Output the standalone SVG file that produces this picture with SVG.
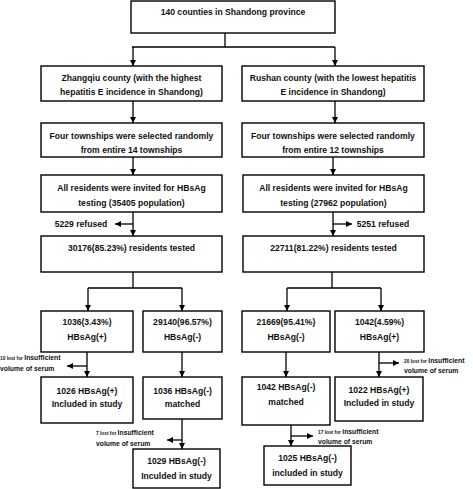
<svg xmlns="http://www.w3.org/2000/svg" width="473" height="489" viewBox="0 0 473 489">
<style>
.b{fill:#fff;stroke:#000;stroke-width:1.4}
.t{font-family:"Liberation Sans",Arial,sans-serif;font-size:8.6px;font-weight:bold;text-anchor:middle;fill:#111}
.s{font-family:"Liberation Sans",Arial,sans-serif;font-size:6.8px;font-weight:bold;fill:#111}
.xs{font-size:4.8px}
.c{stroke:#000;stroke-width:1.3;fill:none}
.a{marker-end:url(#ah)}
</style>
<defs>
<marker id="ah" markerUnits="userSpaceOnUse" markerWidth="7" markerHeight="7" refX="6" refY="3" orient="auto">
<path d="M0,0 L6,3 L0,6 Z" fill="#000"/>
</marker>
</defs>
<rect width="473" height="489" fill="#fff"/>
<g id="connectors">
<path class="c" d="M225,33 V47 M132,47 H335"/>
<path class="c a" d="M133,47 V66"/>
<path class="c a" d="M335,47 V66"/>
<path class="c a" d="M133,101 V123"/>
<path class="c a" d="M335,101 V123"/>
<path class="c a" d="M133,157 V175"/>
<path class="c a" d="M333,157 V175"/>
<path class="c a" d="M133,212 V236"/>
<path class="c a" d="M133,224 H115"/>
<path class="c a" d="M333,212 V236"/>
<path class="c a" d="M333,224 H352"/>
<path class="c" d="M133,272 V288 M88,288 H182"/>
<path class="c a" d="M88,288 V311"/>
<path class="c a" d="M182,288 V311"/>
<path class="c" d="M332,272 V288 M287,288 H381"/>
<path class="c a" d="M287,288 V311"/>
<path class="c a" d="M381,288 V311"/>
<path class="c a" d="M87,352 V377"/>
<path class="c a" d="M87,366 H67"/>
<path class="c a" d="M182,352 V377"/>
<path class="c a" d="M182,419 V449"/>
<path class="c a" d="M182,440 H167"/>
<path class="c a" d="M286,352 V377"/>
<path class="c a" d="M379,352 V377"/>
<path class="c a" d="M379,363 H399"/>
<path class="c a" d="M291,425 V446"/>
<path class="c a" d="M291,436 H313"/>
</g>
<g id="n-top"><rect class="b" x="131" y="1" width="204" height="32"/><text class="t" x="233" y="15">140 counties in Shandong province</text></g>
<g id="n-zhangqiu"><rect class="b" x="41" y="66" width="181" height="35"/><text class="t" x="131.5" y="81">Zhangqiu county (with the highest</text><text class="t" x="131.5" y="95">hepatitis E incidence in Shandong)</text></g>
<g id="n-rushan"><rect class="b" x="242" y="66" width="182" height="35"/><text class="t" x="333" y="81">Rushan county (with the lowest hepatitis</text><text class="t" x="333" y="95">E incidence in Shandong)</text></g>
<g id="n-town-l"><rect class="b" x="41" y="123" width="181" height="34"/><text class="t" x="131.5" y="139">Four townships were selected randomly</text><text class="t" x="131.5" y="153">from entire 14 townships</text></g>
<g id="n-town-r"><rect class="b" x="242" y="123" width="182" height="34"/><text class="t" x="333" y="139">Four townships were selected randomly</text><text class="t" x="333" y="153">from entire 12 townships</text></g>
<g id="n-inv-l"><rect class="b" x="41" y="175" width="181" height="37"/><text class="t" x="131.5" y="191">All residents were invited for HBsAg</text><text class="t" x="131.5" y="206">testing (35405 population)</text></g>
<g id="n-inv-r"><rect class="b" x="243" y="175" width="181" height="37"/><text class="t" x="333.5" y="191">All residents were invited for HBsAg</text><text class="t" x="333.5" y="206">testing (27962 population)</text></g>
<g id="n-ref-l"><text class="t" x="81" y="227">5229 refused</text></g>
<g id="n-ref-r"><text class="t" x="383" y="227">5251 refused</text></g>
<g id="n-test-l"><rect class="b" x="41" y="236" width="181" height="36"/><text class="t" x="131.5" y="251">30176(85.23%) residents tested</text></g>
<g id="n-test-r"><rect class="b" x="243" y="236" width="181" height="36"/><text class="t" x="333.5" y="251">22711(81.22%) residents tested</text></g>
<g id="n-pos-l"><rect class="b" x="41" y="311" width="92" height="41"/><text class="t" x="87" y="325">1036(3.43%)</text><text class="t" x="87" y="340">HBsAg(+)</text></g>
<g id="n-neg-l"><rect class="b" x="143" y="311" width="79" height="41"/><text class="t" x="182.5" y="325">29140(96.57%)</text><text class="t" x="182.5" y="340">HBsAg(-)</text></g>
<g id="n-neg-r"><rect class="b" x="242" y="311" width="88" height="41"/><text class="t" x="286" y="325">21669(95.41%)</text><text class="t" x="286" y="340">HBsAg(-)</text></g>
<g id="n-pos-r"><rect class="b" x="335" y="311" width="89" height="41"/><text class="t" x="379.5" y="325">1042(4.59%)</text><text class="t" x="379.5" y="340">HBsAg(+)</text></g>
<g id="n-lost10"><text class="s" x="0" y="360"><tspan class="xs">10 lost for </tspan>Insufficient</text><text class="s" x="0" y="371">volume of serum</text></g>
<g id="n-inc-pos-l"><rect class="b" x="41" y="377" width="92" height="46"/><text class="t" x="87" y="394">1026 HBsAg(+)</text><text class="t" x="87" y="407">Included in study</text></g>
<g id="n-match-l"><rect class="b" x="143" y="377" width="79" height="42"/><text class="t" x="182.5" y="394">1036 HBsAg(-)</text><text class="t" x="182.5" y="407">matched</text></g>
<g id="n-lost7"><text class="s" x="96" y="435"><tspan class="xs">7 lost for </tspan>Insufficient</text><text class="s" x="96" y="446">volume of serum</text></g>
<g id="n-inc-neg-l"><rect class="b" x="133" y="449" width="87" height="39"/><text class="t" x="176.5" y="464">1029 HBsAg(-)</text><text class="t" x="176.5" y="479">Inculded in study</text></g>
<g id="n-lost20"><text class="s" x="404" y="363"><tspan class="xs">20 lost for </tspan>Insufficient</text><text class="s" x="404" y="373">volume of serum</text></g>
<g id="n-inc-pos-r"><rect class="b" x="335" y="377" width="88" height="44"/><text class="t" x="379" y="393">1022 HBsAg(+)</text><text class="t" x="379" y="406">Included in study</text></g>
<g id="n-match-r"><rect class="b" x="242" y="377" width="88" height="48"/><text class="t" x="286" y="390">1042 HBsAg(-)</text><text class="t" x="286" y="405">matched</text></g>
<g id="n-lost17"><text class="s" x="318" y="434"><tspan class="xs">17 lost for </tspan>insufficient</text><text class="s" x="318" y="444">volume of serum</text></g>
<g id="n-inc-neg-r"><rect class="b" x="264" y="446" width="87" height="39"/><text class="t" x="307.5" y="461">1025 HBsAg(-)</text><text class="t" x="307.5" y="476">included in study</text></g>
</svg>
